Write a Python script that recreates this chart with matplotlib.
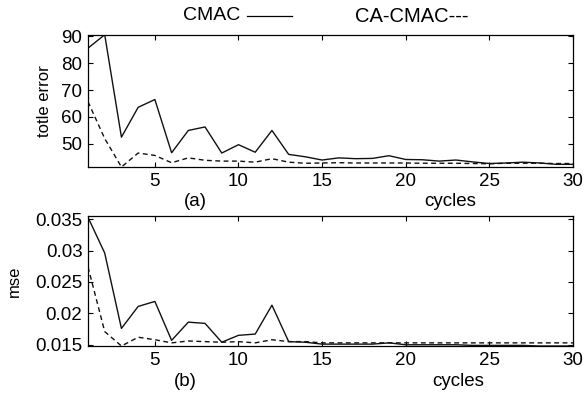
import matplotlib
matplotlib.use("Agg")
import matplotlib.pyplot as plt
from matplotlib.lines import Line2D
import numpy as np

plt.rcParams['font.family'] = ['Liberation Sans', 'DejaVu Sans']

cycles = list(range(1, 31))

# (a) total error per cycle
cmac_err = [85.6, 90.6, 52.5, 63.6, 66.5, 46.7, 55.0, 56.3, 46.6, 49.7,
            46.9, 55.0, 46.1, 45.2, 44.0, 44.8, 44.5, 44.6, 45.6, 44.2,
            44.1, 43.6, 44.0, 43.3, 42.7, 42.9, 43.2, 42.9, 42.4, 42.4]
cacmac_err = [65.7, 52.0, 41.4, 46.6, 45.7, 43.0, 44.8, 43.9, 43.6, 43.6,
              43.2, 44.5, 43.2, 42.8, 42.9, 43.0, 42.9, 42.9, 42.9, 42.9,
              42.8, 42.8, 42.8, 42.7, 42.6, 42.8, 42.8, 42.8, 42.7, 42.7]

# (b) mse per cycle
cmac_mse = [0.0353, 0.0296, 0.0176, 0.0211, 0.0219, 0.0157, 0.0186, 0.0184, 0.0154, 0.0165,
            0.0167, 0.0213, 0.0155, 0.0154, 0.0151, 0.0151, 0.0151, 0.0151, 0.0153, 0.0150,
            0.0150, 0.0150, 0.0150, 0.0149, 0.0149, 0.0149, 0.0149, 0.0148, 0.0148, 0.0148]
cacmac_mse = [0.0274, 0.0171, 0.0148, 0.0162, 0.0158, 0.0153, 0.0156, 0.0155, 0.0154, 0.0155,
              0.0153, 0.0158, 0.0155, 0.0155, 0.0153, 0.0153, 0.0153, 0.0153, 0.0153, 0.0153,
              0.0153, 0.0153, 0.0153, 0.0153, 0.0153, 0.0153, 0.0153, 0.0153, 0.0153, 0.0153]

xticks = [5, 10, 15, 20, 25, 30]
err_ticks = [50, 60, 70, 80, 90]
err_ticklabels = ['50', '60', '70', '80', '90']
mse_ticks = [0.015, 0.02, 0.025, 0.03, 0.035]
mse_ticklabels = ['0.015', '0.02', '0.025', '0.03', '0.035']

fig = plt.figure(figsize=(5.85, 3.94), dpi=100)
ax1 = fig.add_axes([0.1504, 0.5761, 0.829, 0.3358])
ax2 = fig.add_axes([0.1504, 0.1218, 0.829, 0.330])

dash = (0, (3.5, 2.5))
ax1.plot(cycles, cmac_err, color='#111111', lw=1.0)
ax1.plot(cycles, cacmac_err, color='#111111', lw=1.0, linestyle=dash)
ax2.plot(cycles, cmac_mse, color='#111111', lw=1.0)
ax2.plot(cycles, cacmac_mse, color='#111111', lw=1.0, linestyle=dash)

ax1.set_ylim(min(cacmac_err), max(cmac_err))
ax2.set_ylim(min(cacmac_mse + cmac_mse), max(cmac_mse) + 0.0002)
ax1.set_yticks(err_ticks)
ax1.set_yticklabels(err_ticklabels)
ax2.set_yticks(mse_ticks)
ax2.set_yticklabels(mse_ticklabels)

for ax in (ax1, ax2):
    ax.set_xlim(1, 30)
    ax.set_xticks(xticks)
    ax.tick_params(direction='in', top=True, right=True, length=3.5, width=0.8,
                   labelsize=13.5, pad=4)
    for s in ax.spines.values():
        s.set_linewidth(0.9)

ax1.set_ylabel('totle error', fontsize=12)
ax1.yaxis.set_label_coords(-0.074, 0.5)
ax2.set_ylabel('mse', fontsize=12)
ax2.yaxis.set_label_coords(-0.136, 0.5)

fig.text(195 / 585, 1 - 201 / 394, '(a)', ha='center', va='center', fontsize=13.5)
fig.text(450 / 585, 1 - 201 / 394, 'cycles', ha='center', va='center', fontsize=13.5)
fig.text(185 / 585, 1 - 382 / 394, '(b)', ha='center', va='center', fontsize=13.5)
fig.text(458 / 585, 1 - 382 / 394, 'cycles', ha='center', va='center', fontsize=13.5)

# legend made of text, like the original
fig.text(183 / 585, 1 - 16 / 394, 'CMAC', ha='left', va='center', fontsize=14)
fig.add_artist(Line2D([247 / 585, 292 / 585], [1 - 16 / 394, 1 - 16 / 394],
                      color='black', lw=0.9))
fig.text(355 / 585, 1 - 16 / 394, 'CA-CMAC---', ha='left', va='center', fontsize=14.5)

fig.savefig('out.png', dpi=100)
